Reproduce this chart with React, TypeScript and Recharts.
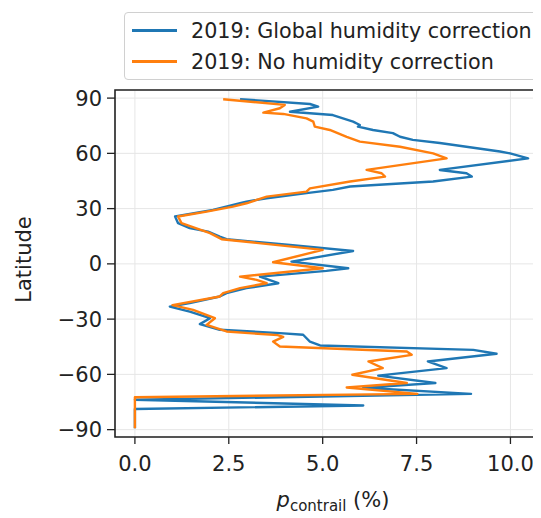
import React from 'react';
import {
  ScatterChart,
  Scatter,
  XAxis,
  YAxis,
  CartesianGrid,
  ReferenceArea,
} from 'recharts';

// latitude profile of contrail probability, 2019
const globalLat = [
  89.4, 86.8, 85.4, 82.6, 81.8, 80.8, 77.2, 75.4, 74.5, 72.7, 71.0, 69.0, 67.3, 65.6, 61.0, 60.0,
  57.3, 51.0, 49.2, 47.4, 44.7, 42.0, 40.2, 38.4, 35.6, 33.8, 32.9, 29.3, 25.7, 22.1, 19.4, 17.5,
  14.8, 13.4, 10.3, 7.0, 1.2, -2.4, -3.8, -6.9, -10.5, -13.2, -15.9, -17.7, -21.3, -23.2, -25.9,
  -29.5, -32.7, -35.8, -37.6, -38.5, -42.2, -44.3, -46.7, -48.8, -53.0, -56.6, -60.7, -64.7,
  -67.3, -70.6, -73.8, -76.9, -78.8, -89.2,
];
const globalVal = [
  2.8, 4.66, 4.88, 4.13, 4.66, 5.27, 5.81, 5.99, 5.94, 6.34, 6.87, 7.06, 7.4, 8.12, 9.72, 9.99,
  10.47, 8.12, 8.83, 8.97, 7.94, 5.73, 5.27, 4.57, 3.51, 2.97, 2.8, 2.08, 1.07, 1.15, 1.46, 1.95,
  2.26, 2.44, 4.13, 5.81, 4.17, 5.68, 5.1, 3.33, 3.82, 2.97, 2.44, 2.26, 1.46, 0.93, 1.46,
  2.0, 1.73, 2.26, 3.86, 4.48, 4.66, 4.93, 9.01, 9.63, 7.8, 8.3, 6.48, 8.0,
  6.08, 8.95, 0, 6.08, 0, 0,
];

const noCorrLat = [
  89.4, 86.3, 84.5, 82.1, 81.4, 79.0, 77.2, 74.5, 72.7, 69.0, 66.4, 63.6, 60.0, 57.3, 51.0, 49.2,
  47.4, 44.7, 41.0, 39.2, 36.5, 32.9, 31.1, 28.4, 25.7, 22.1, 16.7, 13.4, 7.6, 0.9, -2.4, -6.9,
  -8.7, -10.5, -13.2, -15.9, -17.7, -22.4, -25.0, -29.5, -33.1, -36.7, -38.7, -39.6, -42.2,
  -44.9, -47.6, -49.4, -53.0, -56.6, -60.2, -64.7, -67.1, -70.6, -72.4, -89.2,
];
const noCorrVal = [
  2.35, 3.99, 3.86, 3.42, 3.95, 4.57, 4.75, 4.79, 5.19, 5.64, 5.99, 7.06, 7.94, 8.3, 6.17, 6.57,
  6.66, 5.73, 4.66, 4.57, 3.51, 2.97, 2.61, 1.91, 1.15, 1.24, 2.0, 2.31, 5.0, 3.68, 5.0, 2.8,
  3.24, 3.51, 2.8, 2.35, 2.26, 1.0, 1.55, 2.13, 1.91, 2.44, 3.8, 3.95, 3.68,
  3.86, 7.24, 7.37, 6.22, 6.6, 5.79, 7.24, 5.64, 7.52, 0, 0,
];

const xTicks = [0, 2.5, 5, 7.5, 10];
const yTicks = [-90, -60, -30, 0, 30, 60, 90];

const seriesNames = ['2019: Global humidity correction', '2019: No humidity correction'];
const BLUE = '#1f77b4';
const ORANGE = '#ff7f0e';

const globalData = globalLat.map((lat, i) => ({ lat, v: globalVal[i] }));
const noCorrData = noCorrLat.map((lat, i) => ({ lat, v: noCorrVal[i] }));

const FONT = 'DejaVu Sans, sans-serif';
const FS = 21;
const X_DOMAIN: [number, number] = [-0.53, 10.92];
const Y_DOMAIN: [number, number] = [-94, 94.4];

const noDot = () => <g />;

function LegendBox() {
  const cols = [BLUE, ORANGE];
  return (
    <div
      style={{
        position: 'absolute',
        top: 4,
        left: 116,
        border: '1px solid #d0d0d0',
        borderRadius: 4,
        background: '#fff',
        width: 440,
        height: 68,
        boxSizing: 'border-box',
        padding: '2px 0 0 7px',
        fontFamily: FONT,
        fontSize: 20.7,
        color: '#222',
      }}
    >
      {seriesNames.map((n, i) => (
        <div key={n} style={{ display: 'flex', alignItems: 'center', height: 31 }}>
          <span style={{ display: 'inline-block', width: 45, height: 2.5, background: cols[i], marginRight: 14 }} />
          <span style={{ whiteSpace: 'nowrap' }}>{n}</span>
        </div>
      ))}
    </div>
  );
}

export default function App() {
  return (
    <div style={{ width: 533, height: 510, overflow: 'hidden', position: 'relative' }}>
      <ScatterChart width={537} height={510} margin={{ top: 82, right: 0, bottom: 0, left: 0 }}>
        <CartesianGrid stroke="#e6e6e6" strokeWidth={1} />
        <XAxis
          type="number"
          dataKey="v"
          domain={X_DOMAIN}
          ticks={xTicks}
          allowDataOverflow
          tickFormatter={(t: number) => t.toFixed(1)}
          tick={{ fill: '#222', fontSize: FS, fontFamily: FONT }}
          tickSize={7}
          tickMargin={12}
          tickLine={{ stroke: '#222', strokeWidth: 1.3 }}
          axisLine={false}
          height={81}
          label={({ viewBox }: any) => (
            <text
              x={viewBox.x + viewBox.width / 2 + 3}
              y={viewBox.y + 70}
              textAnchor="middle"
              fontFamily={FONT}
              fontSize={FS}
              fill="#222"
            >
              <tspan fontStyle="italic">p</tspan>
              <tspan fontSize={15} dy={4}>contrail</tspan>
              <tspan dy={-4}> (%)</tspan>
            </text>
          )}
        />
        <YAxis
          type="number"
          dataKey="lat"
          domain={Y_DOMAIN}
          ticks={yTicks}
          allowDataOverflow
          tickFormatter={(t: number) => String(t).replace('-', '\u2212')}
          tick={{ fill: '#222', fontSize: FS, fontFamily: FONT }}
          tickSize={8}
          tickMargin={5}
          tickLine={{ stroke: '#222', strokeWidth: 1.3 }}
          axisLine={false}
          width={107}
          label={({ viewBox }: any) => {
            const cx = 16;
            const cy = viewBox.y + viewBox.height / 2 - 4;
            return (
              <text
                x={cx}
                y={cy}
                transform={`rotate(-90 ${cx} ${cy})`}
                textAnchor="middle"
                dominantBaseline="central"
                fontFamily={FONT}
                fontSize={FS}
                fill="#222"
              >
                Latitude
              </text>
            );
          }}
        />
        <ReferenceArea
          x1={X_DOMAIN[0]}
          x2={X_DOMAIN[1]}
          y1={Y_DOMAIN[0]}
          y2={Y_DOMAIN[1]}
          fill="none"
          stroke="#222"
          strokeWidth={1.6}
          ifOverflow="visible"
        />
        <Scatter
          name={seriesNames[0]}
          data={globalData}
          line={{ stroke: BLUE, strokeWidth: 2.4, strokeLinejoin: 'round' }}
          lineJointType="linear"
          lineType="joint"
          shape={noDot}
          fill={BLUE}
          isAnimationActive={false}
        />
        <Scatter
          name={seriesNames[1]}
          data={noCorrData}
          line={{ stroke: ORANGE, strokeWidth: 2.4, strokeLinejoin: 'round' }}
          lineJointType="linear"
          lineType="joint"
          shape={noDot}
          fill={ORANGE}
          isAnimationActive={false}
        />
      </ScatterChart>
      <LegendBox />
    </div>
  );
}
